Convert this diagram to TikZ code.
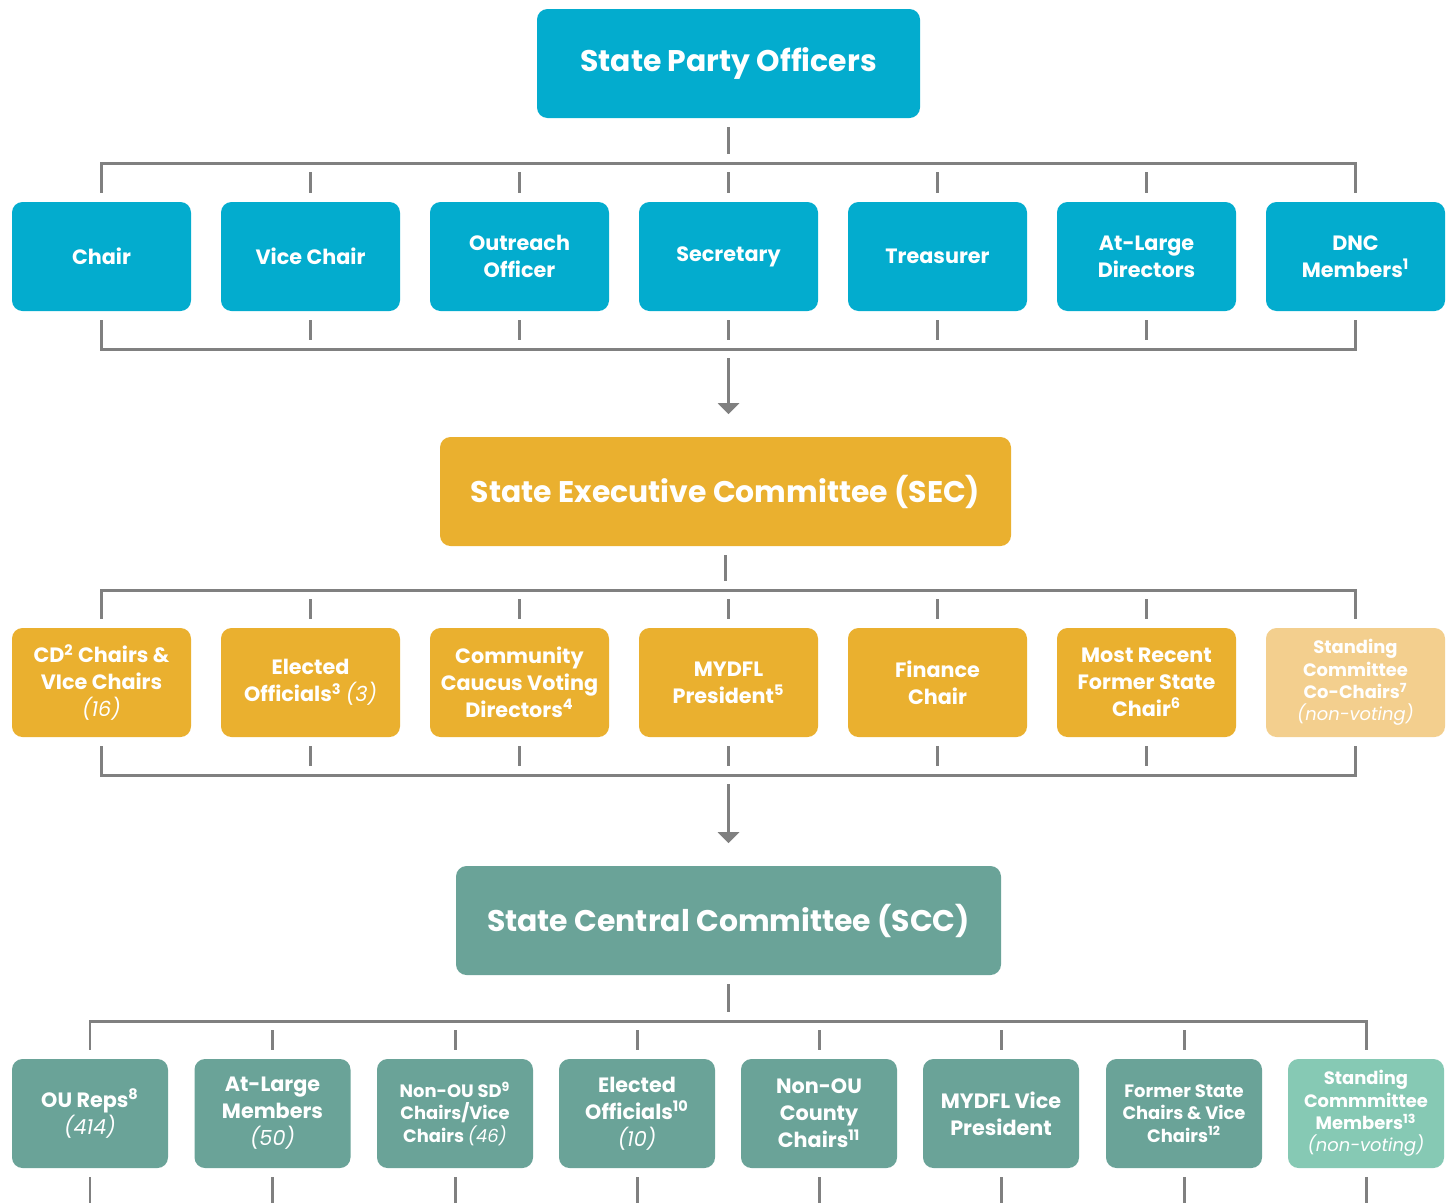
\documentclass[tikz,border=0pt]{standalone}
\usepackage{fontspec}
\setmainfont{Poppins}
\usetikzlibrary{arrows.meta}

\definecolor{officerblue}{RGB}{3,172,206}
\definecolor{execgold}{RGB}{234,176,47}
\definecolor{execlight}{RGB}{243,207,142}
\definecolor{centralteal}{RGB}{106,163,152}
\definecolor{centrallight}{RGB}{134,201,180}
\definecolor{linegray}{RGB}{128,128,128}

\newcommand{\cnt}[1]{{\mdseries\itshape #1}}

\tikzset{
  box/.style={rounded corners=6pt, minimum width=3.58cm, minimum height=2.18cm,
    align=center, text=white, inner sep=2pt,
    font=\bfseries\fontsize{11.8}{15.3}\selectfont},
  smallbox/.style={box, minimum width=3.12cm},
  small/.style={font=\bfseries\fontsize{10.2}{12.7}\selectfont},
  head/.style={box, font=\bfseries\fontsize{17}{20}\selectfont},
  officer/.style={fill=officerblue},
  exec/.style={fill=execgold},
  execnv/.style={fill=execlight},
  central/.style={fill=centralteal},
  centralnv/.style={fill=centrallight},
  conn/.style={draw=linegray, line width=1.7pt, shorten <=0.18cm, shorten >=0.18cm},
  down/.style={conn, -{Triangle[width=0.42cm, length=0.22cm]}, shorten >=0.45cm}
}

\begin{document}
\begin{tikzpicture}
    \useasboundingbox (0, 0) rectangle (28.96, -24.06);

    % officers
    \node[head, officer, minimum width=7.66cm] (po) at (14.57, -1.27) {State Party Officers};

    \node[box, officer] (chair) at (2.03, -5.13) {Chair};
    \node[box, officer] (vicechair) at (6.21, -5.13) {Vice Chair};
    \node[box, officer] (outreach) at (10.39, -5.13) {Outreach\\Officer};
    \node[box, officer] (secretary) at (14.57, -5.13) {Secretary};
    \node[box, officer] (treasurer) at (18.75, -5.13) {Treasurer};
    \node[box, officer] (atlarge) at (22.93, -5.13) {At-Large\\Directors};
    \node[box, officer] (dnc) at (27.11, -5.13) {DNC\\Members\textsuperscript{1}};

    \coordinate (bus1) at (0, -3.26);
    \coordinate (bus2) at (0, -6.98);

    \draw[conn] (po) -- (po |- bus1);
    \draw[conn] (chair) -- (chair |- bus1) -- (dnc |- bus1) -- (dnc);
    \draw[conn] (vicechair |- bus1) -- (vicechair);
    \draw[conn] (outreach |- bus1) -- (outreach);
    \draw[conn] (secretary |- bus1) -- (secretary);
    \draw[conn] (treasurer |- bus1) -- (treasurer);
    \draw[conn] (atlarge |- bus1) -- (atlarge);

    \draw[conn] (chair) -- (chair |- bus2) -- (dnc |- bus2) -- (dnc);
    \draw[conn] (vicechair) -- (vicechair |- bus2);
    \draw[conn] (outreach) -- (outreach |- bus2);
    \draw[conn] (secretary) -- (secretary |- bus2);
    \draw[conn] (treasurer) -- (treasurer |- bus2);
    \draw[conn] (atlarge) -- (atlarge |- bus2);

    % executive committee
    \node[head, exec, minimum width=11.42cm] (sec) at (14.51, -9.83) {State Executive Committee (SEC)};
    \draw[down] (secretary |- bus2) -- (secretary |- sec.north);

    \node[box, exec] (cdchairs) at (2.03, -13.65) {CD\textsuperscript{2} Chairs \&\\VIce Chairs\\\cnt{(16)}};
    \node[box, exec] (electedsec) at (6.21, -13.65) {Elected\\Officials\textsuperscript{3} \cnt{(3)}};
    \node[box, exec] (caucus) at (10.39, -13.65) {Community\\Caucus Voting\\Directors\textsuperscript{4}};
    \node[box, exec] (mydfl) at (14.57, -13.65) {MYDFL\\President\textsuperscript{5}};
    \node[box, exec] (finance) at (18.75, -13.65) {Finance\\Chair};
    \node[box, exec] (formerchair) at (22.93, -13.65) {Most Recent\\Former State\\Chair\textsuperscript{6}};
    \node[box, execnv, small] (cochairs) at (27.11, -13.65)
      {Standing\\Committee\\Co-Chairs\textsuperscript{7}\\\cnt{(non-voting)}};

    \coordinate (bus3) at (0, -11.8);
    \coordinate (bus4) at (0, -15.5);

    \draw[conn] (sec) -- (sec |- bus3);
    \draw[conn] (cdchairs) -- (cdchairs |- bus3) -- (cochairs |- bus3) -- (cochairs);
    \draw[conn] (electedsec |- bus3) -- (electedsec);
    \draw[conn] (caucus |- bus3) -- (caucus);
    \draw[conn] (mydfl |- bus3) -- (mydfl);
    \draw[conn] (finance |- bus3) -- (finance);
    \draw[conn] (formerchair |- bus3) -- (formerchair);

    \draw[conn] (cdchairs) -- (cdchairs |- bus4) -- (cochairs |- bus4) -- (cochairs);
    \draw[conn] (electedsec) -- (electedsec |- bus4);
    \draw[conn] (caucus) -- (caucus |- bus4);
    \draw[conn] (mydfl) -- (mydfl |- bus4);
    \draw[conn] (finance) -- (finance |- bus4);
    \draw[conn] (formerchair) -- (formerchair |- bus4);

    % central committee
    \node[head, central, minimum width=10.9cm] (scc) at (14.57, -18.41) {State Central Committee (SCC)};
    \draw[down] (mydfl |- bus4) -- (mydfl |- scc.north);

    \node[smallbox, central] (oureps) at (1.8, -22.27) {OU Reps\textsuperscript{8}\\\cnt{(414)}};
    \node[smallbox, central] (members) at (5.45, -22.27) {At-Large\\Members\\\cnt{(50)}};
    \node[smallbox, central, small] (sdchairs) at (9.1, -22.27)
      {Non-OU SD\textsuperscript{9}\\Chairs/Vice\\Chairs \cnt{(46)}};
    \node[smallbox, central] (electedscc) at (12.74, -22.27) {Elected\\Officials\textsuperscript{10}\\\cnt{(10)}};
    \node[smallbox, central] (county) at (16.38, -22.27) {Non-OU\\County\\Chairs\textsuperscript{11}};
    \node[smallbox, central] (vicepres) at (20.02, -22.27) {MYDFL Vice\\President};
    \node[smallbox, central, small] (formerchairs) at (23.68, -22.27)
      {Former State\\Chairs \& Vice\\Chairs\textsuperscript{12}};
    \node[smallbox, centralnv, small] (standing) at (27.32, -22.27)
      {Standing\\Commmittee\\Members\textsuperscript{13}\\\cnt{(non-voting)}};

    \coordinate (bus5) at (0, -20.42);
    \coordinate (edge) at (0, -24.06);

    \draw[conn] (scc) -- (scc |- bus5);
    \draw[conn] (oureps) -- (oureps |- bus5) -- (standing |- bus5) -- (standing);
    \draw[conn] (members |- bus5) -- (members);
    \draw[conn] (sdchairs |- bus5) -- (sdchairs);
    \draw[conn] (electedscc |- bus5) -- (electedscc);
    \draw[conn] (county |- bus5) -- (county);
    \draw[conn] (vicepres |- bus5) -- (vicepres);
    \draw[conn] (formerchairs |- bus5) -- (formerchairs);

    \draw[conn, shorten >=0pt] (oureps) -- (oureps |- edge);
    \draw[conn, shorten >=0pt] (members) -- (members |- edge);
    \draw[conn, shorten >=0pt] (sdchairs) -- (sdchairs |- edge);
    \draw[conn, shorten >=0pt] (electedscc) -- (electedscc |- edge);
    \draw[conn, shorten >=0pt] (county) -- (county |- edge);
    \draw[conn, shorten >=0pt] (vicepres) -- (vicepres |- edge);
    \draw[conn, shorten >=0pt] (formerchairs) -- (formerchairs |- edge);
    \draw[conn, shorten >=0pt] (standing) -- (standing |- edge);

  \end{tikzpicture}
\end{document}
